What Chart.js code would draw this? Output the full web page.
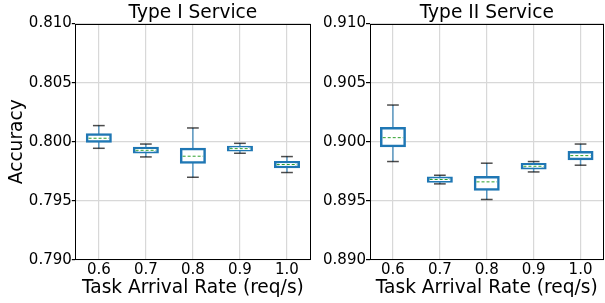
<!DOCTYPE html>
<html>
<head>
<meta charset="utf-8">
<script src="https://cdn.jsdelivr.net/npm/chart.js@4.4.1/dist/chart.umd.min.js"></script>
<style>
  html, body { margin: 0; padding: 0; background: #fff; }
  #wrap { position: relative; width: 605px; height: 303px; }
  canvas { position: absolute; top: 0; }
  #leftChart { left: 0; }
  #rightChart { left: 318px; }
</style>
</head>
<body>
<div id="wrap">
  <canvas id="leftChart" width="318" height="303"></canvas>
  <canvas id="rightChart" width="287" height="303"></canvas>
</div>
<script>
// categories (task arrival rate)
const rates = ['0.6', '0.7', '0.8', '0.9', '1.0'];

// Type I service box stats
const type1Min  = [0.79945, 0.79872, 0.79700, 0.79903, 0.79740];
const type1Q1   = [0.80002, 0.79911, 0.79824, 0.79928, 0.79787];
const type1Mean = [0.80030, 0.79928, 0.79878, 0.79942, 0.79808];
const type1Q3   = [0.80061, 0.79948, 0.79939, 0.79956, 0.79827];
const type1Max  = [0.80137, 0.79981, 0.80117, 0.79987, 0.79875];

// Type II service box stats
const type2Min  = [0.89833, 0.89644, 0.89512, 0.89745, 0.89802];
const type2Q1   = [0.89965, 0.89664, 0.89597, 0.89776, 0.89855];
const type2Mean = [0.90035, 0.89681, 0.89661, 0.89793, 0.89883];
const type2Q3   = [0.90114, 0.89695, 0.89700, 0.89810, 0.89911];
const type2Max  = [0.90311, 0.89717, 0.89819, 0.89833, 0.89981];

// y tick values
const type1Ticks = [0.790, 0.795, 0.800, 0.805, 0.810];
const type2Ticks = [0.890, 0.895, 0.900, 0.905, 0.910];

Chart.defaults.font.family = "'DejaVu Sans', sans-serif";
Chart.defaults.color = '#000';

// whiskers, caps, mean lines and the frame around the plot
function boxExtras(mins, means, maxs) {
  return {
    id: 'boxExtras',
    beforeDatasetsDraw(chart) {
      const { ctx, scales: { x, y } } = chart;
      ctx.save();
      ctx.strokeStyle = 'rgba(31,119,180,0.7)';
      ctx.lineWidth = 1.5;
      mins.forEach((lo, i) => {
        const px = x.getPixelForValue(i);
        ctx.beginPath();
        ctx.moveTo(px, y.getPixelForValue(lo));
        ctx.lineTo(px, y.getPixelForValue(maxs[i]));
        ctx.stroke();
      });
      ctx.restore();
    },
    afterDatasetsDraw(chart) {
      const { ctx, scales: { x, y }, chartArea: a } = chart;
      const bars = chart.getDatasetMeta(0).data;
      ctx.save();
      // caps
      ctx.strokeStyle = 'rgba(0,0,0,0.7)';
      ctx.lineWidth = 1.5;
      mins.forEach((lo, i) => {
        const px = x.getPixelForValue(i);
        const half = bars[i].width / 4;
        [lo, maxs[i]].forEach(v => {
          const py = y.getPixelForValue(v);
          ctx.beginPath();
          ctx.moveTo(px - half, py);
          ctx.lineTo(px + half, py);
          ctx.stroke();
        });
      });
      // means
      ctx.strokeStyle = '#2ca02c';
      ctx.lineWidth = 1;
      ctx.setLineDash([3, 2]);
      means.forEach((m, i) => {
        const px = x.getPixelForValue(i);
        const half = bars[i].width / 2 - 1.5;
        const py = y.getPixelForValue(m);
        ctx.beginPath();
        ctx.moveTo(px - half, py);
        ctx.lineTo(px + half, py);
        ctx.stroke();
      });
      ctx.setLineDash([]);
      // frame
      ctx.strokeStyle = '#000';
      ctx.lineWidth = 1;
      const l = Math.round(a.left) + 0.5, t = Math.round(a.top) + 0.5;
      const r = Math.round(a.right) - 0.5, b = Math.round(a.bottom) - 0.5;
      ctx.strokeRect(l, t, r - l, b - t);
      ctx.restore();
    }
  };
}

function makeBoxChart(id, title, yTitle, yWidth, padRight, ticks, mins, q1s, means, q3s, maxs) {
  return new Chart(document.getElementById(id), {
    type: 'bar',
    data: {
      labels: rates,
      datasets: [{
        data: q1s.map((q, i) => [q, q3s[i]]),
        backgroundColor: '#fff',
        borderColor: '#1f77b4',
        borderWidth: 2.5,
        borderSkipped: false,
        inflateAmount: 1.25,
        barPercentage: 0.5,
        categoryPercentage: 1
      }]
    },
    options: {
      responsive: false,
      animation: false,
      devicePixelRatio: 1,
      layout: { padding: { left: 0, right: padRight, top: 0, bottom: 0 } },
      plugins: {
        legend: { display: false },
        tooltip: { enabled: false },
        title: {
          display: true,
          fullSize: false,
          text: title,
          color: '#000',
          font: { size: 18.6, weight: 'normal', lineHeight: 1.15 },
          padding: { top: 2.2, bottom: 0 }
        }
      },
      scales: {
        x: {
          grid: { offset: false, color: '#d8d8d8', lineWidth: 1.2, drawTicks: false },
          border: { display: false },
          ticks: { font: { size: 15 }, padding: 1 },
          title: {
            display: true,
            text: 'Task Arrival Rate (req/s)',
            font: { size: 18.6 },
            padding: { top: 0, bottom: 3.5 }
          },
          afterFit: s => { s.height = 43; }
        },
        y: {
          min: ticks[0],
          max: ticks[ticks.length - 1],
          grid: { color: '#d8d8d8', lineWidth: 1.2, tickColor: '#000', tickLength: 3.5 },
          border: { display: false },
          ticks: {
            font: { size: 15 },
            padding: 0,
            callback: v => v.toFixed(3)
          },
          afterBuildTicks: s => { s.ticks = ticks.map(v => ({ value: v })); },
          title: {
            display: !!yTitle,
            text: yTitle,
            font: { size: 18.6 },
            padding: { top: 6, bottom: 0 }
          },
          afterFit: s => { s.width = yWidth; }
        }
      }
    },
    plugins: [boxExtras(mins, means, maxs)]
  });
}

makeBoxChart('leftChart', 'Type I Service', 'Accuracy', 75.3, 7.5,
  type1Ticks, type1Min, type1Q1, type1Mean, type1Q3, type1Max);
makeBoxChart('rightChart', 'Type II Service', '', 51.5, 1,
  type2Ticks, type2Min, type2Q1, type2Mean, type2Q3, type2Max);
</script>
</body>
</html>
